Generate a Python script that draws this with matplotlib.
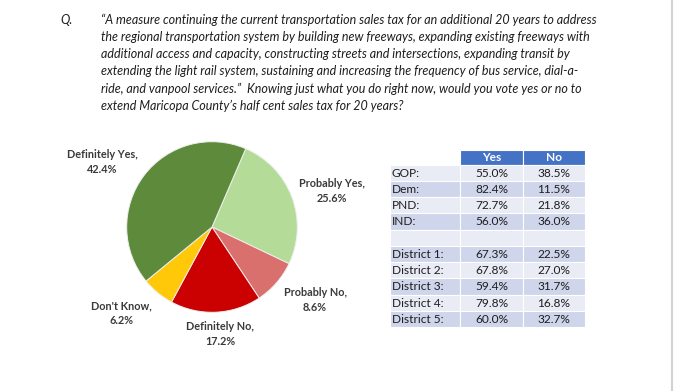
"""
Recreates the Maricopa County half cent sales tax poll slide: pie chart plus crosstab table.

Saves out.png
"""

import matplotlib.pyplot as plt
from matplotlib.patches import Rectangle

# question text, one entry per printed line
questionLines = [
    "\u201cA measure continuing the current transportation sales tax for an additional 20 years to address",
    "the regional transportation system by building new freeways, expanding existing freeways with",
    "additional access and capacity, constructing streets and intersections, expanding transit by",
    "extending the light rail system, sustaining and increasing the frequency of bus service, dial-a-",
    "ride, and vanpool services.\u201d  Knowing just what you do right now, would you vote yes or no to",
    "extend Maricopa County\u2019s half cent sales tax for 20 years?",
]

# pie slices, clockwise from the top right
sliceNames = ["Probably Yes", "Probably No", "Definitely No", "Don't Know", "Definitely Yes"]
sliceValues = [25.6, 8.6, 17.2, 6.2, 42.4]
sliceColors = ["#B4DC98", "#D9706D", "#CB0101", "#FFC90A", "#5D8B3B"]

# crosstab table
tableHeaders = ["Yes", "No"]
tableRows = ["GOP:", "Dem:", "PND:", "IND:", "", "District 1:", "District 2:", "District 3:", "District 4:", "District 5:"]
yesValues = [55.0, 82.4, 72.7, 56.0, None, 67.3, 67.8, 59.4, 79.8, 60.0]
noValues = [38.5, 11.5, 21.8, 36.0, None, 22.5, 27.0, 31.7, 16.8, 32.7]

W, H = 676, 391
fig = plt.figure(figsize=(W / 100, H / 100), dpi=100)
fig.patch.set_facecolor("white")

# overlay axes in pixel coordinates for text and table
overlay = fig.add_axes([0, 0, 1, 1])
overlay.set_xlim(0, W)
overlay.set_ylim(H, 0)
overlay.axis("off")

textColor = "#1E1E1E"
overlay.text(60, 20, "Q.", fontsize=9, family="Lato", style="italic", color=textColor, va="center")
for i, line in enumerate(questionLines):
    overlay.text(101, 20 + i * 17.1, line, fontsize=9, family="Lato", style="italic",
                 color=textColor, va="center")

# pie
cx, cy, r = 212, 227, 87
pieAx = fig.add_axes([(cx - r) / W, (H - cy - r) / H, 2 * r / W, 2 * r / H])
pieAx.pie(sliceValues, colors=sliceColors, startangle=66.7, counterclock=False,
          wedgeprops={"edgecolor": "#EFEFEF", "linewidth": 0.7})
pieAx.set_xlim(-1.02, 1.02)
pieAx.set_ylim(-1.02, 1.02)

labelSpots = {
    "Definitely Yes": (102, 162),
    "Probably Yes": (332, 191),
    "Probably No": (315, 300),
    "Definitely No": (220, 334),
    "Don't Know": (121, 313),
}
for name, value in zip(sliceNames, sliceValues):
    x, y = labelSpots[name]
    overlay.text(x, y, f"{name},\n{value:.1f}%", fontsize=7.8, family="Lato", weight="bold",
                 color="#3A3A3A", ha="center", va="center", linespacing=1.35)

# table
labelLeft, yesLeft, noLeft, tableRight = 390, 460, 523, 585
headerTop, headerBottom = 150, 164.5
rowHeight = 16.25
headerBlue = "#4472C4"
darkRow, lightRow = "#CFD5EA", "#E9EBF5"
tableFont = 8.6

for left, right, head in zip([yesLeft, noLeft], [noLeft, tableRight], tableHeaders):
    overlay.add_patch(Rectangle((left, headerTop), right - left, headerBottom - headerTop,
                                facecolor=headerBlue, edgecolor="white", linewidth=0.8))
    overlay.text((left + right) / 2, (headerTop + headerBottom) / 2 + 0.5, head, fontsize=tableFont,
                 family="Lato", weight="bold", color="white", ha="center", va="center")

for i, (rowName, yes, no) in enumerate(zip(tableRows, yesValues, noValues)):
    top = headerBottom + i * rowHeight
    fill = darkRow if i % 2 == 1 else lightRow
    for left, right in [(labelLeft, yesLeft), (yesLeft, noLeft), (noLeft, tableRight)]:
        overlay.add_patch(Rectangle((left, top), right - left, rowHeight,
                                    facecolor=fill, edgecolor="white", linewidth=0.8))
    mid = top + rowHeight / 2 + 0.5
    overlay.text(labelLeft + 1.5, mid, rowName, fontsize=tableFont, family="Lato", color=textColor, va="center")
    if yes is not None:
        overlay.text((yesLeft + noLeft) / 2, mid, f"{yes:.1f}%", fontsize=tableFont, family="Lato",
                     color=textColor, ha="center", va="center")
        overlay.text((noLeft + tableRight) / 2, mid, f"{no:.1f}%", fontsize=tableFont, family="Lato",
                     color=textColor, ha="center", va="center")

# page edge on the right
overlay.plot([672, 672], [0, H], color="#D2D2D2", linewidth=1.5)

fig.savefig("out.png", dpi=100, facecolor="white")
